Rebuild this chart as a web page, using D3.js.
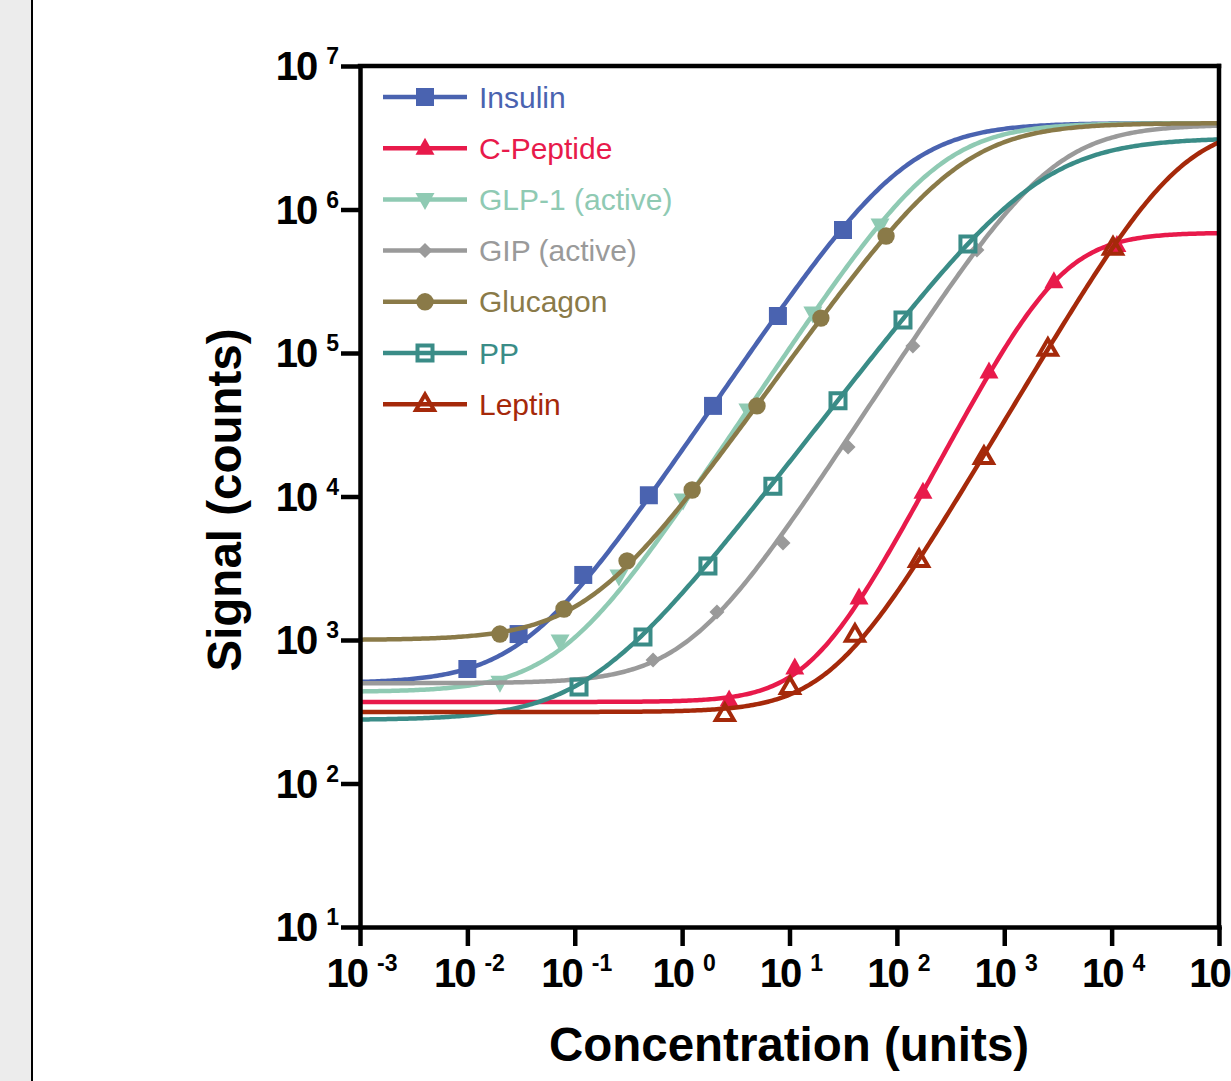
<!DOCTYPE html>
<html>
<head>
<meta charset="utf-8">
<script src="https://cdn.jsdelivr.net/npm/d3@7"></script>
<style>
  html, body { margin: 0; padding: 0; background: #ffffff; }
  svg { display: block; }
  text { font-family: "Liberation Sans", Arial, Helvetica, sans-serif; }
</style>
</head>
<body>
<svg id="chart" width="1231" height="1081"></svg>
<script>
// ---------------- DATA ----------------
const xTickExponents = [-3, -2, -1, 0, 1, 2, 3, 4, 5];
const yTickExponents = [1, 2, 3, 4, 5, 6, 7];
const seriesNames = ["Insulin", "C-Peptide", "GLP-1 (active)", "GIP (active)", "Glucagon", "PP", "Leptin"];

const insulinConc     = [0.01, 0.03, 0.12, 0.49, 1.94, 7.8, 31.5];
const insulinSignal   = [628, 1100, 2840, 10200, 42800, 181000, 720000];
const cPeptideConc    = [2.74, 11.2, 44.4, 175, 721, 2900, 11200];
const cPeptideSignal  = [382, 638, 1960, 10700, 73800, 313000, 560000];
const glp1Conc        = [0.0201, 0.073, 0.258, 1.02, 4.1, 16.5, 69.7];
const glp1Signal      = [509, 984, 2790, 9460, 40100, 190000, 780000];
const gipConc         = [0.536, 2.11, 8.7, 35.1, 141, 557];
const gipSignal       = [726, 1570, 4740, 22100, 112000, 522000];
const glucagonConc    = [0.0201, 0.0794, 0.307, 1.24, 4.98, 19.6, 79.3];
const glucagonSignal  = [1100, 1645, 3560, 11100, 42800, 175000, 653000];
const ppConc          = [0.1096, 0.432, 1.74, 7.0, 28.3, 114, 459];
const ppSignal        = [470, 1050, 3280, 11800, 46400, 170000, 575000];
const leptinConc      = [2.5, 10.1, 40.7, 161, 647, 2550, 10300];
const leptinSignal    = [305, 470, 1085, 3600, 18800, 107000, 540000];

// fitted 4-parameter logistic curves (bottom, top, EC50, Hill slope)
const fitBottom = [500, 370, 435, 500, 1000, 277, 315];
const fitTop    = [4.0e6, 6.9e5, 4.0e6, 3.9e6, 4.0e6, 3.15e6, 4.0e6];
const fitEC50   = [120, 3320, 240, 2800, 376, 2150, 44600];
const fitHill   = [1.1, 1.42, 1.13, 1.15, 1.05, 0.97, 1.26];

// ---------------- STYLES ----------------
const seriesColors  = ["#4a63b0", "#e81a4b", "#8fcab3", "#9a9a9a", "#8a7a48", "#3a8c87", "#a5290a"];
const seriesMarkers = ["square", "triUp", "triDown", "diamond", "circle", "openSquare", "openTri"];

const concs   = [insulinConc, cPeptideConc, glp1Conc, gipConc, glucagonConc, ppConc, leptinConc];
const signals = [insulinSignal, cPeptideSignal, glp1Signal, gipSignal, glucagonSignal, ppSignal, leptinSignal];

const series = seriesNames.map((name, i) => ({
  name, color: seriesColors[i], marker: seriesMarkers[i],
  points: concs[i].map((c, j) => ({ x: c, y: signals[i][j] })),
  fit: { bottom: fitBottom[i], top: fitTop[i], ec50: fitEC50[i], hill: fitHill[i] }
}));

// ---------------- LAYOUT ----------------
const svg = d3.select("#chart");
const L = 360, R = 1219, T = 66, B = 927;

svg.append("rect").attr("x", 0).attr("y", 0).attr("width", 1231).attr("height", 1081).attr("fill", "#ffffff");
svg.append("rect").attr("x", 0).attr("y", 0).attr("width", 31).attr("height", 1081).attr("fill", "#ececec");
svg.append("line").attr("x1", 32).attr("x2", 32).attr("y1", 0).attr("y2", 1081)
  .attr("stroke", "#000").attr("stroke-width", 2);

const x = d3.scaleLog().domain([1e-3, 1e5]).range([L, R]);
const y = d3.scaleLog().domain([1e1, 1e7]).range([B, T]);

// ---------------- CURVES ----------------
function logistic(f, c) {
  return f.bottom + (f.top - f.bottom) / (1 + Math.pow(f.ec50 / c, f.hill));
}
const sampleConc = d3.range(0, 401).map(k => Math.pow(10, -3 + 8 * k / 400));
const lineGen = d3.line().x(d => x(d.x)).y(d => y(d.y)).curve(d3.curveLinear);

svg.append("clipPath").attr("id", "plotclip")
  .append("rect").attr("x", L).attr("y", T).attr("width", R - L).attr("height", B - T);

function markerPath(type) {
  switch (type) {
    case "square": { const h = 9; return `M${-h},${-h}H${h}V${h}H${-h}Z`; }
    case "openSquare": { const h = 7.5; return `M${-h},${-h}H${h}V${h}H${-h}Z`; }
    case "circle": return d3.symbol(d3.symbolCircle, Math.PI * 8.7 * 8.7)();
    case "triUp": { const w = 9.5, h = 17; return `M0,${-h * 0.62}L${w},${h * 0.38}L${-w},${h * 0.38}Z`; }
    case "triDown": { const w = 9.5, h = 17; return `M0,${h * 0.62}L${w},${-h * 0.38}L${-w},${-h * 0.38}Z`; }
    case "openTri": { const w = 9, h = 15.5; return `M0,${-h * 0.62}L${w},${h * 0.38}L${-w},${h * 0.38}Z`; }
    case "diamond": { const h = 7.5; return `M0,${-h}L${h},0L0,${h}L${-h},0Z`; }
  }
}
function styleMarker(sel, s) {
  const open = s.marker === "openSquare" || s.marker === "openTri";
  sel.attr("d", markerPath(s.marker))
    .attr("fill", open ? "none" : s.color)
    .attr("stroke", open ? s.color : "none")
    .attr("stroke-width", open ? 4 : 0)
    .attr("stroke-linejoin", "miter");
}

const plotG = svg.append("g").attr("clip-path", "url(#plotclip)");
series.forEach(s => {
  const curve = sampleConc.map(c => ({ x: c, y: logistic(s.fit, c) }));
  plotG.append("path").datum(curve).attr("d", lineGen)
    .attr("fill", "none").attr("stroke", s.color).attr("stroke-width", 4.5);
  plotG.selectAll(null).data(s.points).enter().append("path")
    .attr("transform", d => `translate(${x(d.x)},${y(d.y)})`)
    .call(styleMarker, s);
});

// ---------------- AXES ----------------
const axisW = 4.5;
const xAxis = d3.axisBottom(x).tickValues(xTickExponents.map(e => Math.pow(10, e)))
  .tickFormat("").tickSize(19).tickSizeOuter(0);
const yAxis = d3.axisLeft(y).tickValues(yTickExponents.map(e => Math.pow(10, e)))
  .tickFormat("").tickSize(19).tickSizeOuter(0);

const gx = svg.append("g").attr("transform", `translate(0,${B})`).call(xAxis);
const gy = svg.append("g").attr("transform", `translate(${L},0)`).call(yAxis);
[gx, gy].forEach(g => {
  g.selectAll("path, line").attr("stroke", "#000").attr("stroke-width", axisW);
  g.select(".domain").attr("stroke-linecap", "square");
});
// top and right frame
svg.append("line").attr("x1", L).attr("x2", R).attr("y1", T).attr("y2", T)
  .attr("stroke", "#000").attr("stroke-width", axisW).attr("stroke-linecap", "square");
svg.append("line").attr("x1", R).attr("x2", R).attr("y1", T).attr("y2", B)
  .attr("stroke", "#000").attr("stroke-width", axisW).attr("stroke-linecap", "square");

// tick labels
function powerLabel(g, e, xPos, yPos, anchor) {
  const t = g.append("text").attr("x", xPos).attr("y", yPos).attr("text-anchor", anchor)
    .attr("font-weight", "bold").attr("fill", "#000");
  t.append("tspan").attr("font-size", 40).attr("letter-spacing", -2).text("10");
  t.append("tspan").attr("font-size", 23).attr("dx", 10).attr("dy", -16).text(String(e));
}
const labelsG = svg.append("g");
yTickExponents.forEach(e => powerLabel(labelsG, e, 339, y(Math.pow(10, e)) + 14, "end"));
xTickExponents.forEach(e => powerLabel(labelsG, e, x(Math.pow(10, e)) + 2, 987, "middle"));

// axis titles
svg.append("text").attr("transform", `translate(241,500) rotate(-90)`)
  .attr("text-anchor", "middle").attr("font-weight", "bold").attr("font-size", 47.5)
  .attr("fill", "#000").text("Signal (counts)");
svg.append("text").attr("x", 789).attr("y", 1061)
  .attr("text-anchor", "middle").attr("font-weight", "bold").attr("font-size", 47.5)
  .attr("fill", "#000").text("Concentration (units)");

// ---------------- LEGEND ----------------
const legendG = svg.append("g");
series.forEach((s, i) => {
  const ry = 97 + i * 51.2;
  const row = legendG.append("g").attr("transform", `translate(0,${ry})`);
  row.append("line").attr("x1", 383).attr("x2", 467).attr("y1", 0).attr("y2", 0)
    .attr("stroke", s.color).attr("stroke-width", 4.5);
  row.append("path").attr("transform", "translate(425,0)").call(styleMarker, s);
  row.append("text").attr("x", 479).attr("y", 10.5).attr("font-size", 30)
    .attr("fill", s.color).text(s.name);
});
</script>
</body>
</html>
